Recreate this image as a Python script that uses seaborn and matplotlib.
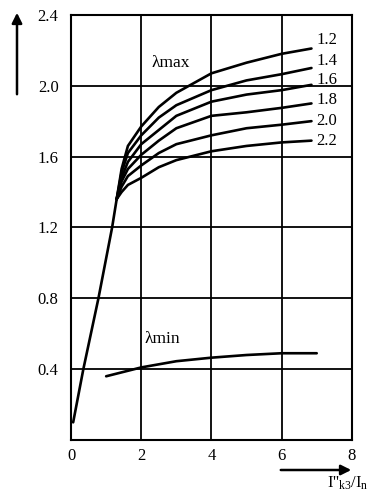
import matplotlib
matplotlib.use("Agg")
import matplotlib.pyplot as plt
import numpy as np
import pandas as pd
import seaborn as sns

# Rising common branch, from the origin to where the family splits
rise_x = [0.06, 0.35, 0.78, 1.17, 1.30]
rise_y = [0.10, 0.40, 0.80, 1.20, 1.36]

# lambda_max family, one curve per parameter value
max_x = [1.3, 1.44, 1.62, 2.0, 2.5, 3.0, 4.0, 5.0, 6.0, 6.85]
max_curves = {
    "1.2": [1.36, 1.53, 1.66, 1.77, 1.88, 1.96, 2.07, 2.13, 2.18, 2.21],
    "1.4": [1.36, 1.51, 1.62, 1.72, 1.82, 1.89, 1.975, 2.03, 2.065, 2.10],
    "1.6": [1.36, 1.48, 1.57, 1.67, 1.75, 1.83, 1.91, 1.95, 1.975, 2.005],
    "1.8": [1.36, 1.46, 1.53, 1.61, 1.69, 1.76, 1.83, 1.85, 1.875, 1.90],
    "2.0": [1.36, 1.43, 1.49, 1.55, 1.62, 1.67, 1.72, 1.76, 1.78, 1.80],
    "2.2": [1.36, 1.40, 1.44, 1.48, 1.54, 1.58, 1.63, 1.66, 1.68, 1.69],
}
label_y = [2.26, 2.14, 2.03, 1.92, 1.80, 1.69]

# lambda_min curve
min_x = [1.0, 2.0, 3.0, 4.0, 5.0, 6.0, 7.0]
min_y = [0.36, 0.41, 0.445, 0.465, 0.48, 0.49, 0.49]

x_ticks = [0, 2, 4, 6, 8]
y_ticks = [0.4, 0.8, 1.2, 1.6, 2.0, 2.4]
y_tick_labels = ["0.4", "0.8", "1.2", "1.6", "2.0", "2.4"]

rows = []
for xv, yv in zip(rise_x, rise_y):
    rows.append(("rise", xv, yv))
for name, vals in max_curves.items():
    for xv, yv in zip(max_x, vals):
        rows.append((name, xv, yv))
for xv, yv in zip(min_x, min_y):
    rows.append(("min", xv, yv))
df = pd.DataFrame(rows, columns=["curve", "x", "y"])

sns.set_theme(style="white")
plt.rcParams["font.family"] = ["Liberation Serif", "DejaVu Serif"]
plt.rcParams["mathtext.fontset"] = "custom"
plt.rcParams["mathtext.rm"] = "Liberation Serif"
plt.rcParams["mathtext.it"] = "Liberation Serif"

fig = plt.figure(figsize=(3.82, 4.95), dpi=100)
ax = fig.add_axes([0.186, 0.111, 0.735, 0.859])

names = list(df["curve"].unique())
sns.lineplot(data=df, x="x", y="y", hue="curve", palette={n: "black" for n in names},
             estimator=None, sort=False, legend=False, linewidth=1.9, ax=ax)
for line in ax.lines:
    line.set_solid_joinstyle("round")

ax.set_xlim(0, 8)
ax.set_ylim(0, 2.4)
ax.set_xticks(x_ticks)
ax.set_yticks(y_ticks)
ax.set_yticklabels(y_tick_labels)
ax.set_xlabel("")
ax.set_ylabel("")
ax.tick_params(axis="both", labelsize=12, colors="black", length=3, width=1.2,
               direction="out", pad=6)
ax.tick_params(axis="x", length=0, pad=6)
ax.grid(True, color="black", linewidth=1.3)
for s in ax.spines.values():
    s.set_color("black")
    s.set_linewidth(1.5)

for name, ly in zip(max_curves.keys(), label_y):
    ax.text(7.0, ly, name, fontsize=12, ha="left", va="center", color="black")

ax.text(2.3, 2.13, "λmax", fontsize=12.5, ha="left", va="center", color="black")
ax.text(2.1, 0.57, "λmin", fontsize=12.5, ha="left", va="center", color="black")

# Direction arrows for the axes
fig.patches.append(matplotlib.patches.FancyArrowPatch(
    (17 / 382, 1 - 97 / 495), (17 / 382, 1 - 10 / 495), transform=fig.transFigure,
    arrowstyle="-|>,head_length=6,head_width=3", color="black", linewidth=1.8))
fig.patches.append(matplotlib.patches.FancyArrowPatch(
    (278 / 382, 1 - 470 / 495), (354 / 382, 1 - 470 / 495), transform=fig.transFigure,
    arrowstyle="-|>,head_length=6,head_width=3", color="black", linewidth=1.8))

fig.text(327 / 382, 1 - 483 / 495, r"I''$_{\mathrm{k3}}$/I$_{\mathrm{n}}$",
         fontsize=12, ha="left", va="center", color="black")

fig.savefig("out.png", dpi=100)
